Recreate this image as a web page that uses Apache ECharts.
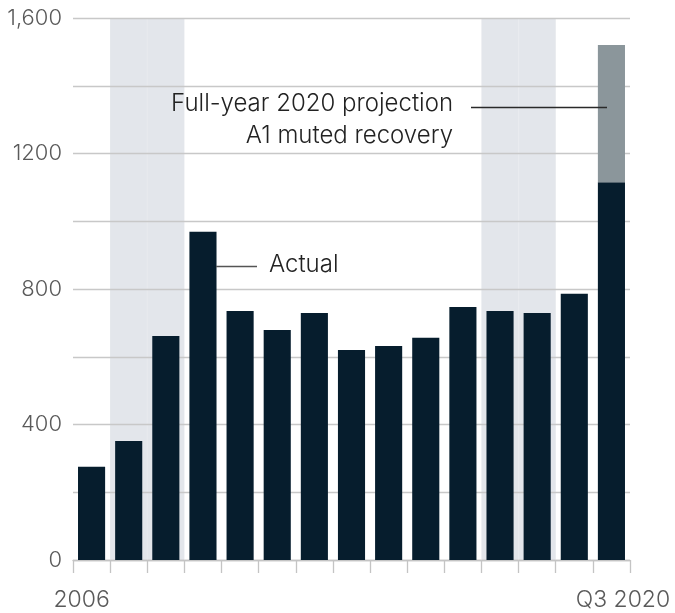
<!DOCTYPE html>
<html>
<head>
<meta charset="utf-8">
<script src="https://cdn.jsdelivr.net/npm/echarts@6/dist/echarts.min.js"></script>
<style>
html,body{margin:0;padding:0;background:#fff;}
#chart{width:675px;height:613px;}
</style>
</head>
<body>
<div id="chart"></div>
<script>
// ---- data ----
const categories = ['2006','2007','2008','2009','2010','2011','2012','2013','2014','2015','2016','2017','2018','2019','Q3 2020'];
const actualValues = [275, 351, 661, 969, 735, 679, 729, 620, 632, 656, 747, 735, 729, 786, 1115];
const projection2020Total = 1520;          // full-year 2020 projection, A1 muted recovery
const shadedPeriods = ['2007','2008','2017','2018'];
const yTickLabels = {0:'0', 400:'400', 800:'800', 1200:'1200', 1600:'1,600'};
const xEndLabels = {first:'2006', last:'Q3 2020'};

// ---- derived series ----
const lastIdx = categories.length - 1;
const projectionValues = categories.map((c, i) => i === lastIdx ? projection2020Total - actualValues[i] : null);
const yMax = 1600;
const shadeValues = categories.map(c => shadedPeriods.includes(c) ? yMax : null);

const FONT = 'Inter, "Liberation Sans", Arial, sans-serif';
const FW = 300;
const chart = echarts.init(document.getElementById('chart'), null, {renderer:'canvas'});

chart.setOption({
  animation: false,
  backgroundColor: '#ffffff',
  grid: {left: 73, right: 45, top: 18, bottom: 53, containLabel: false},
  xAxis: [{
    type: 'category',
    data: categories,
    boundaryGap: true,
    axisLine: {show: true, lineStyle: {color: '#c4c4c4', width: 1.3}},
    axisTick: {show: true, interval: 0, alignWithLabel: false, length: 13, lineStyle: {color: '#c4c4c4', width: 1.3}},
    axisLabel: {
      interval: 0,
      margin: 29,
      fontFamily: FONT,
      fontSize: 23,
      fontWeight: FW,
      color: '#5a5a5a',
      formatter: function (v, i) {
        if (i === 0) return '{l|' + xEndLabels.first + '}';
        if (i === lastIdx) return '{r|' + xEndLabels.last + '}';
        return '';
      },
      rich: {
        l: {fontFamily: FONT, fontSize: 23, fontWeight: FW, color: '#5a5a5a', padding: [0, 20, 0, 0]},
        r: {fontFamily: FONT, fontSize: 23, fontWeight: FW, color: '#5a5a5a', padding: [0, 0, 0, 23]}
      }
    },
    splitLine: {show: false}
  }, {
    type: 'category',
    data: categories,
    show: false,
    boundaryGap: true
  }],
  yAxis: {
    type: 'value',
    min: 0,
    max: yMax,
    interval: 200,
    axisLine: {show: false},
    axisTick: {show: false},
    axisLabel: {
      margin: 11,
      fontFamily: FONT,
      fontSize: 22,
      fontWeight: FW,
      color: '#5a5a5a',
      formatter: function (v) { return yTickLabels[v] !== undefined ? yTickLabels[v] : ''; }
    },
    splitLine: {show: true, lineStyle: {color: '#c8c8c8', width: 1.3}}
  },
  series: [{
    name: 'shade',
    type: 'bar',
    xAxisIndex: 1,
    data: shadeValues,
    barCategoryGap: '0%',
    barGap: '0%',
    itemStyle: {color: '#e3e6eb', borderColor: '#e3e6eb', borderWidth: 1},
    z: -1,
    silent: true
  }, {
    name: 'Actual',
    type: 'bar',
    stack: 'total',
    data: actualValues,
    barCategoryGap: '27%',
    itemStyle: {color: '#061d2d'},
    z: 3
  }, {
    name: 'Full-year 2020 projection',
    type: 'bar',
    stack: 'total',
    data: projectionValues,
    itemStyle: {color: '#8b969b'},
    z: 3
  }],
  graphic: [
    {type: 'line', shape: {x1: 471, y1: 107.5, x2: 607, y2: 107.5}, style: {stroke: '#2a2a2a', lineWidth: 1.3}, z: 10},
    {type: 'text', x: 453, y: 104, style: {text: 'Full-year 2020 projection', font: FW + ' 24px ' + FONT, fill: '#222', textAlign: 'right', textVerticalAlign: 'middle'}, z: 10},
    {type: 'text', x: 453, y: 136, style: {text: 'A1 muted recovery', font: FW + ' 24px ' + FONT, fill: '#222', textAlign: 'right', textVerticalAlign: 'middle'}, z: 10},
    {type: 'line', shape: {x1: 216, y1: 266.5, x2: 257, y2: 266.5}, style: {stroke: '#555', lineWidth: 1.3}, z: 10},
    {type: 'text', x: 269, y: 265, style: {text: 'Actual', font: FW + ' 24px ' + FONT, fill: '#222', textAlign: 'left', textVerticalAlign: 'middle'}, z: 10}
  ]
});
</script>
</body>
</html>
